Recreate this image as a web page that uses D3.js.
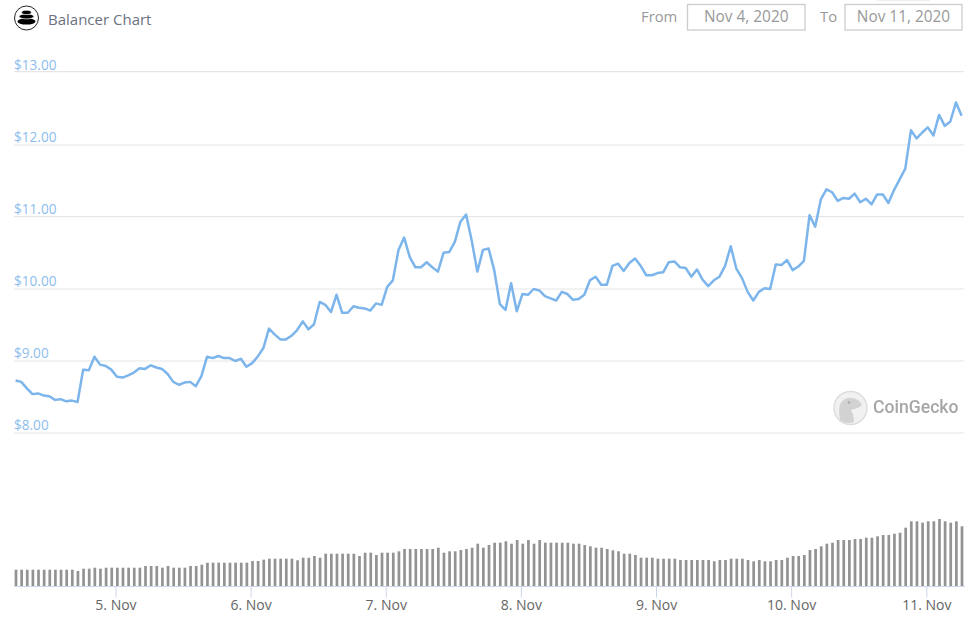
<!DOCTYPE html>
<html><head><meta charset="utf-8">
<script src="https://cdn.jsdelivr.net/npm/d3@7/dist/d3.min.js"></script>
<style>html,body{margin:0;padding:0;background:#fff}svg{display:block}text{font-family:"Open Sans",sans-serif}</style>
</head><body><div id="chart"></div>
<script>
const prices = [8.73,8.71,8.62,8.54,8.55,8.52,8.51,8.46,8.47,8.44,8.45,8.43,8.88,8.87,9.06,8.95,8.93,8.88,8.78,8.77,8.80,8.84,8.90,8.89,8.94,8.91,8.89,8.82,8.71,8.67,8.70,8.71,8.65,8.79,9.06,9.04,9.07,9.04,9.04,9.00,9.03,8.92,8.97,9.06,9.18,9.45,9.37,9.30,9.30,9.35,9.43,9.55,9.44,9.51,9.82,9.78,9.68,9.92,9.67,9.67,9.76,9.74,9.73,9.70,9.80,9.78,10.03,10.12,10.54,10.71,10.44,10.30,10.30,10.37,10.30,10.24,10.50,10.51,10.65,10.93,11.03,10.67,10.24,10.54,10.56,10.26,9.79,9.71,10.08,9.69,9.93,9.92,10.00,9.98,9.90,9.87,9.84,9.96,9.93,9.85,9.86,9.92,10.12,10.17,10.06,10.06,10.32,10.35,10.25,10.36,10.42,10.32,10.19,10.19,10.22,10.23,10.37,10.38,10.30,10.29,10.17,10.27,10.13,10.04,10.12,10.17,10.32,10.59,10.28,10.15,9.96,9.84,9.96,10.01,10.00,10.34,10.33,10.40,10.26,10.31,10.39,11.02,10.86,11.24,11.38,11.34,11.22,11.26,11.25,11.32,11.20,11.25,11.17,11.31,11.31,11.19,11.37,11.52,11.67,12.20,12.09,12.17,12.24,12.13,12.41,12.26,12.32,12.58,12.40];
const volumes = [16.3,16.3,16.3,16.3,16.3,16.3,16.3,16.3,16.3,16.3,16.3,15,17.3,17.3,18.3,17.3,18.3,18.3,18.3,18.3,18.3,18.3,18.3,20,20,20,18.3,20,18.3,18.3,18.3,20,20,21.3,23.3,23.3,23.3,23.3,23.3,23.3,23.3,23.3,25,25,26.3,27.3,27.3,27.3,27.3,27.3,25.7,28.3,28.3,30,28.3,32.3,
32.3,32.3,32.3,32.3,32.3,30,33.3,33.3,31,33.3,33.3,33.3,34.7,37,37,37,37,37,37,38.3,33.3,34.7,34.7,36,37,38.3,42.3,38.3,41,43.3,43.3,44.7,42.3,46,42.3,46,42.3,46,43.3,43.3,43.3,43.3,43.3,42.3,42.3,41,39.7,38.3,38.3,37,35.7,34.7,32.3,32.3,31,28.3,28.3,
28.3,27.3,27.3,27.3,27.3,26,26,26,26,26,26,24.7,26,26,27.3,27.3,27.3,26,24.7,26,24.7,24.7,26,26,28.3,30,30,31,36,37,39.7,42.3,43.3,46,46,46,47,47,48.3,48.3,49.7,51,51,52.3,53.3,58.3,64.7,64.7,63.3,64.7,64.7,67,64.7,63.3,64.7,59.7];
const priceTicks = [8,9,10,11,12,13];
const dayTicks = [5,6,7,8,9,10,11];
const title = "Balancer Chart";
const fromDate = "Nov 4, 2020", toDate = "Nov 11, 2020";

const W = 980, H = 621;
const t0 = new Date(2020,10,4,6,16);
const hour = 3600000;
const times = prices.map((_,i)=>new Date(+t0+i*hour));
const x = d3.scaleTime().domain([t0,times[times.length-1]]).range([15.6,961.6]);
const y = d3.scaleLinear().domain(priceTicks).range([433,361,289,216.6,145,71.6]);
const yV = d3.scaleLinear().domain([0,100]).range([586,486]);

const svg = d3.select("#chart").append("svg").attr("width",W).attr("height",H);
const defs = svg.append("defs");
defs.append("filter").attr("id","soft").append("feGaussianBlur").attr("stdDeviation",0.4);

// grid
svg.append("g").selectAll("line").data(priceTicks).join("line")
  .attr("x1",14).attr("x2",964).attr("y1",d=>y(d)).attr("y2",d=>y(d))
  .attr("stroke","#e6e6e6").attr("stroke-width",1.2);
const labelY = d3.scaleLinear().domain([8,13]).range([429.8,69.8]);
svg.append("g").selectAll("text").data(priceTicks).join("text")
  .attr("x",14).attr("y",d=>labelY(d)).attr("font-size",13.6).attr("fill","#8dbdee")
  .text(d=>"$"+d.toFixed(2));

// volume bars
svg.append("g").selectAll("rect").data(volumes).join("rect")
  .attr("x",(d,i)=>x(times[i])-0.95).attr("width",2.7)
  .attr("y",d=>yV(d)).attr("height",d=>yV(0)-yV(d)).attr("fill","#939393");

// x axis
const axis = d3.axisBottom(x)
  .tickValues(dayTicks.map(d=>new Date(2020,10,d)))
  .tickSize(11).tickPadding(3)
  .tickFormat(d=>d.getDate()+". Nov");
const gx = svg.append("g").attr("transform","translate(0,586.5)").call(axis);
gx.select(".domain").attr("d","M14,0H965").attr("stroke","#ccd6eb");
gx.selectAll(".tick line").attr("stroke","#ccd6eb");
gx.selectAll(".tick text").attr("font-size",14).attr("fill","#666").attr("font-family",'"Open Sans",sans-serif');

// price line
const line = d3.line().x((d,i)=>x(times[i])).y(d=>y(d));
svg.append("path").datum(prices).attr("d",line).attr("fill","none")
  .attr("stroke","#7cb5ec").attr("stroke-width",2.5).attr("stroke-linejoin","round");

// header
const logo = svg.append("g").attr("transform","translate(26.5,18)");
logo.append("circle").attr("r",12).attr("fill","#fff").attr("stroke","#222").attr("stroke-width",1);
logo.append("ellipse").attr("cy",3.4).attr("rx",9).attr("ry",3.2).attr("fill","#000");
logo.append("ellipse").attr("cy",-1.6).attr("rx",7.4).attr("ry",2.5).attr("fill","#000").attr("stroke","#fff").attr("stroke-width",0.7);
logo.append("ellipse").attr("cy",-5.6).attr("rx",4.8).attr("ry",2.2).attr("fill","#000").attr("stroke","#fff").attr("stroke-width",0.7);
svg.append("text").attr("x",48).attr("y",25).attr("font-size",15).attr("fill","#6b7280").text(title);

const hdr = svg.append("g");
hdr.append("rect").attr("x",877).attr("y",0).attr("width",53).attr("height",1).attr("fill","#eee");
[[687.5,117.5,fromDate],[845,117,toDate]].forEach(([bx,bw,t])=>{
  hdr.append("rect").attr("x",bx).attr("y",4.5).attr("width",bw).attr("height",25.5)
    .attr("fill","#fff").attr("stroke","#ccc").attr("stroke-width",1.3);
  hdr.append("text").attr("x",bx+bw/2).attr("y",22).attr("text-anchor","middle")
    .attr("font-size",15.4).attr("fill","#999").text(t);
});
hdr.append("text").attr("x",641).attr("y",22).attr("font-size",14.8).attr("fill","#999").text("From");
hdr.append("text").attr("x",820).attr("y",22).attr("font-size",14.8).attr("fill","#999").text("To");

// watermark
const wm = svg.append("g").attr("filter","url(#soft)");
wm.append("circle").attr("cx",850.5).attr("cy",408).attr("r",16.5).attr("fill","#f1f1f1").attr("stroke","#dcdcdc").attr("stroke-width",1.4);
wm.append("path").attr("d","M840,420 C838,408 839,400 848,398 C854,397 860,400 862,405 C858,409 853,409 851,410 C853,414 854,418 854,422 C849,424 844,423 840,420Z").attr("fill","#d2d2d2");
wm.append("circle").attr("cx",849).attr("cy",402.5).attr("r",1.2).attr("fill","#aaa");
wm.append("text").attr("x",873).attr("y",413).attr("font-size",17.6).attr("font-weight",500)
  .style("font-family","Roboto,sans-serif").attr("fill","#a6a6a6").text("CoinGecko");
</script></body></html>
